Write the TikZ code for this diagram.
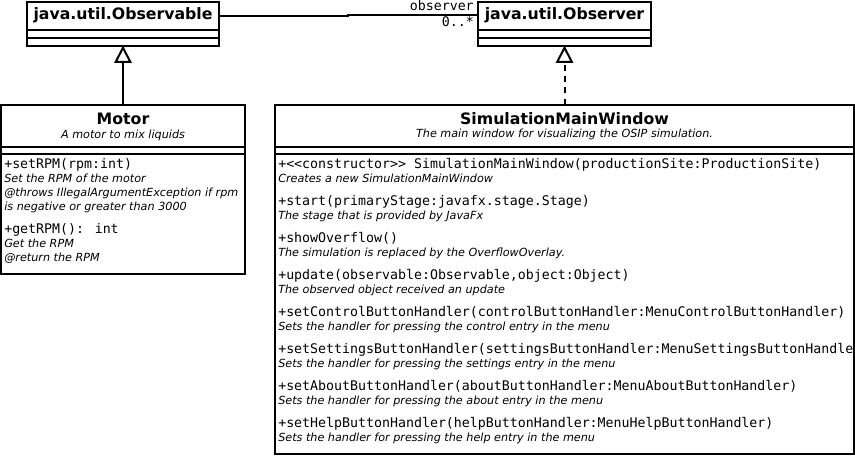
\documentclass[tikz,border=0pt]{standalone}
\usepackage{fontspec}
\setmainfont{DejaVu Sans}
\newfontfamily\monof{DejaVu Sans Mono}
\usetikzlibrary{arrows.meta}
\begin{document}
\begin{tikzpicture}[x=0.75pt,y=-0.75pt,
  classbox/.style={draw, line width=1.5pt, inner sep=0pt, outer sep=0pt, fill=white},
  ttl/.style={font=\fontsize{11.8pt}{14pt}\selectfont\bfseries, inner sep=0pt},
  dsc/.style={font=\fontsize{8.4pt}{10pt}\selectfont\itshape, inner sep=0pt},
  optxt/.style={font=\monof\fontsize{9.95pt}{12pt}\selectfont, inner sep=0pt, anchor=base west},
  cmtxt/.style={font=\fontsize{8.4pt}{10pt}\selectfont\itshape, inner sep=0pt, anchor=base west},
  sepline/.style={line width=1.5pt},
  conn/.style={line width=1.5pt},
  gen/.style={conn, -{Triangle[open, length=13pt, width=13pt, line width=1.5pt]}},
]
\useasboundingbox (0,0) rectangle (855,455);

% ---- class boxes
\node[classbox, minimum width=144pt, minimum height=33pt] (obs) at (123,23.5) {};
\node[classbox, minimum width=129.75pt, minimum height=33pt] (obv) at (564.5,23.5) {};
\node[classbox, minimum width=183pt, minimum height=126.75pt] (motor) at (123,189) {};
\node[classbox, minimum width=434.25pt, minimum height=261.75pt] (smw) at (564.5,279) {};

% ---- compartments
\foreach \n/\a/\b in {obs/29.5/37.5, obv/29.5/37.5, motor/146.5/153.5, smw/146.5/153.5}{
  \draw[sepline] (\n.west |- 0,\a) -- (\n.east |- 0,\a);
  \draw[sepline] (\n.west |- 0,\b) -- (\n.east |- 0,\b);
}

% ---- titles
\node[ttl] (obsT) at (123,15.5) {java.util.Observable};
\node[ttl] (obvT) at (564.5,15.5) {java.util.Observer};
\node[ttl] (motorT) at (123,118.5) {Motor};
\node[dsc] (motorD) at (123,135) {A motor to mix liquids};
\node[ttl] (smwT) at (564.5,118.5) {SimulationMainWindow};
\node[dsc] (smwD) at (564.5,134.5) {The main window for visualizing the OSIP simulation.};

% ---- Motor operations
\node[optxt] (m1) at (4,168.5) {+setRPM(rpm:int)};
\node[cmtxt] (m1a) at (4,182.5) {Set the RPM of the motor};
\node[cmtxt] (m1b) at (4,196.5) {@throws IllegalArgumentException if rpm};
\node[cmtxt] (m1c) at (4,210.5) {is negative or greater than 3000};
\node[optxt] (m2) at (4,233.5) {+getRPM(): int};
\node[cmtxt] (m2a) at (4,247.5) {Get the RPM};
\node[cmtxt] (m2b) at (4,261.5) {@return the RPM};

% ---- SimulationMainWindow operations
\node[optxt] (s1) at (278,168.5) {+<<constructor>> SimulationMainWindow(productionSite:ProductionSite)};
\node[cmtxt] (s1a) at (278,182.5) {Creates a new SimulationMainWindow};
\node[optxt] (s2) at (278,205.5) {+start(primaryStage:javafx.stage.Stage)};
\node[cmtxt] (s2a) at (278,219.5) {The stage that is provided by JavaFx};
\node[optxt] (s3) at (278,242.5) {+showOverflow()};
\node[cmtxt] (s3a) at (278,256.5) {The simulation is replaced by the OverflowOverlay.};
\node[optxt] (s4) at (278,279.5) {+update(observable:Observable,object:Object)};
\node[cmtxt] (s4a) at (278,293.5) {The observed object received an update};
\node[optxt] (s5) at (278,316.5) {+setControlButtonHandler(controlButtonHandler:MenuControlButtonHandler)};
\node[cmtxt] (s5a) at (278,330.5) {Sets the handler for pressing the control entry in the menu};
\node[optxt] (s6) at (278,353.5) {+setSettingsButtonHandler(settingsButtonHandler:MenuSettingsButtonHandle};
\node[cmtxt] (s6a) at (278,367.5) {Sets the handler for pressing the settings entry in the menu};
\node[optxt] (s7) at (278,390.5) {+setAboutButtonHandler(aboutButtonHandler:MenuAboutButtonHandler)};
\node[cmtxt] (s7a) at (278,404.5) {Sets the handler for pressing the about entry in the menu};
\node[optxt] (s8) at (278,427.5) {+setHelpButtonHandler(helpButtonHandler:MenuHelpButtonHandler)};
\node[cmtxt] (s8a) at (278,441.5) {Sets the handler for pressing the help entry in the menu};

% ---- connectors
\draw[gen] (motor.north) -- (obs.south);
\draw[gen, dash pattern=on 4.5pt off 4pt] (smw.north) -- (obv.south);
\coordinate (obsR) at ([yshift=-10.5pt]obs.north east);
\coordinate (obvL) at ([yshift=-9.75pt]obv.north west);
\coordinate (jog) at (348,15.5);
\draw[conn] (obsR) -- (jog) |- (obvL);
\node[optxt, anchor=base east] (lrole) at (474,10.5) {observer};
\node[optxt, anchor=base east] (lmult) at (474,26.5) {0..*};
\end{tikzpicture}
\end{document}
